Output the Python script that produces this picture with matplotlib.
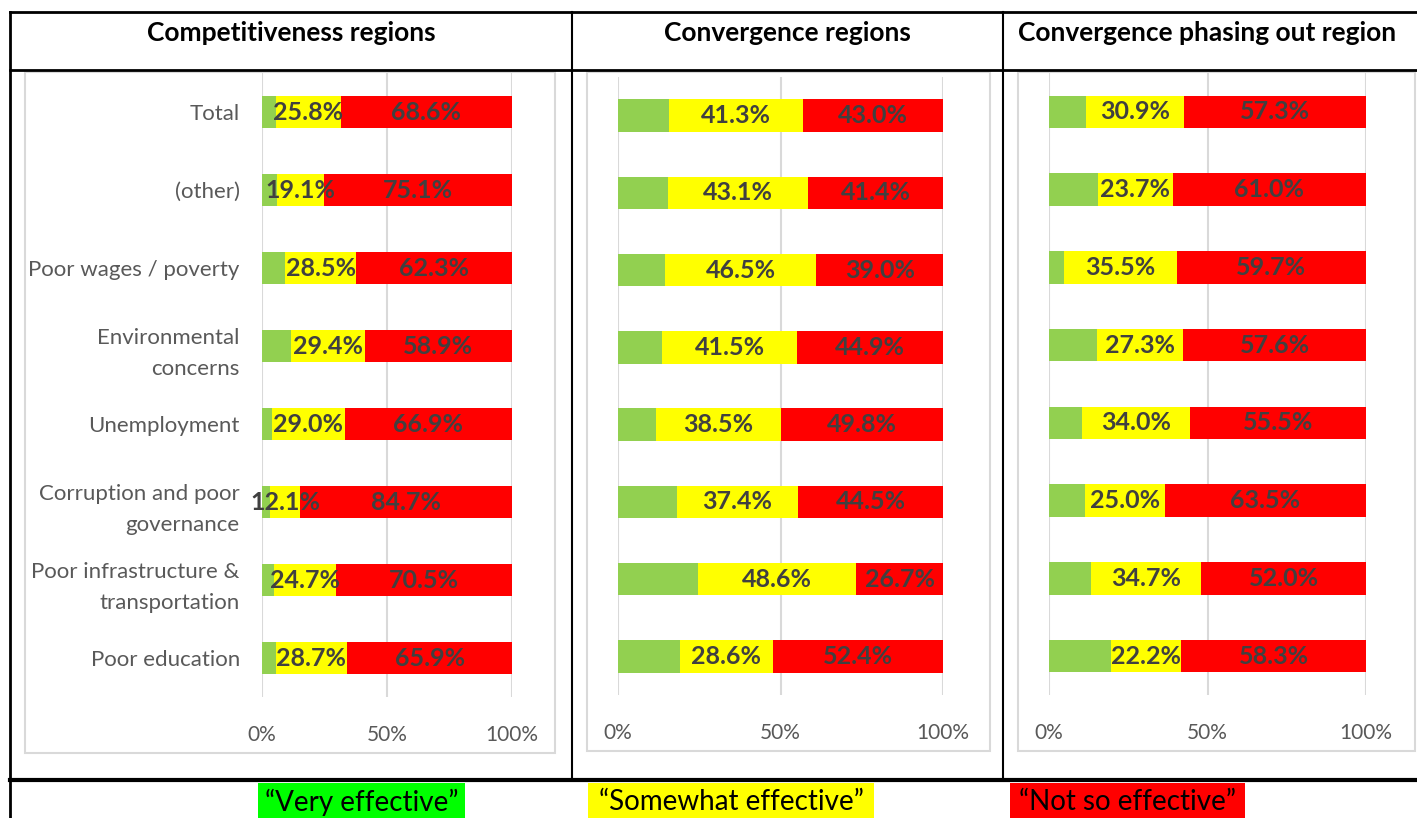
import matplotlib
matplotlib.use('Agg')
import matplotlib.pyplot as plt
from matplotlib.patches import Rectangle
from matplotlib.lines import Line2D

plt.rcParams['font.family'] = ['Lato', 'DejaVu Sans']

# Data
categories = ['Total', '(other)', 'Poor wages / poverty', 'Environmental\nconcerns',
              'Unemployment', 'Corruption and poor\ngovernance',
              'Poor infrastructure &\ntransportation', 'Poor education']
panel_titles = ['Competitiveness regions', 'Convergence regions',
                'Convergence phasing out region']

comp_somewhat = [25.8, 19.1, 28.5, 29.4, 29.0, 12.1, 24.7, 28.7]
comp_not = [68.6, 75.1, 62.3, 58.9, 66.9, 84.7, 70.5, 65.9]
conv_somewhat = [41.3, 43.1, 46.5, 41.5, 38.5, 37.4, 48.6, 28.6]
conv_not = [43.0, 41.4, 39.0, 44.9, 49.8, 44.5, 26.7, 52.4]
phase_somewhat = [30.9, 23.7, 35.5, 27.3, 34.0, 25.0, 34.7, 22.2]
phase_not = [57.3, 61.0, 59.7, 57.6, 55.5, 63.5, 52.0, 58.3]

legend_labels = ['\u201cVery effective\u201d', '\u201cSomewhat effective\u201d',
                 '\u201cNot so effective\u201d']

GREEN, YELLOW, RED = '#92d050', '#ffff00', '#ff0000'
LEG_COLORS = ['#00ff00', '#ffff00', '#ff0000']
GRID = '#d9d9d9'
LABEL = '#404040'

W, H = 1417, 818
fig = plt.figure(figsize=(W / 100, H / 100), dpi=100)


def fx(x):
    return x / W


def fy(y):
    return 1 - y / H


def axes_px(x0, y0, x1, y1):
    return fig.add_axes([fx(x0), fy(y1), fx(x1) - fx(x0), (y1 - y0) / H])


# table frame
lines = [
    ((10, 1417), (12, 12), 2),
    ((10, 1417), (70, 70), 2),
    ((10, 10), (12, 818), 2),
    ((572, 572), (12, 780), 1.5),
    ((1003, 1003), (12, 780), 1.5),
    ((10, 1417), (780, 780), 3),
]
for xs, ys, lw in lines:
    fig.add_artist(Line2D([fx(xs[0]), fx(xs[1])], [fy(ys[0]), fy(ys[1])],
                          color='black', lw=lw, transform=fig.transFigure))

# chart boxes
boxes = [(25, 72, 555, 753), (587, 72, 990, 751), (1018, 72, 1415, 751)]
for x0, y0, x1, y1 in boxes:
    fig.add_artist(Rectangle((fx(x0), fy(y1)), fx(x1) - fx(x0), (y1 - y0) / H,
                             transform=fig.transFigure, fill=False,
                             edgecolor=GRID, lw=1.5))

# titles
title_pos = [(291, 'center'), (787, 'center'), (1018, 'left')]
for t, (x, ha) in zip(panel_titles, title_pos):
    fig.text(fx(x), fy(33), t, ha=ha, va='center', fontsize=19,
             fontweight='bold', color='black')

panels = [
    ((262, 73, 512, 697), comp_somewhat, comp_not, True),
    ((618, 77, 943, 695), conv_somewhat, conv_not, False),
    ((1049, 73, 1366, 695), phase_somewhat, phase_not, False),
]

for (x0, y0, x1, y1), som, nots, show_cats in panels:
    ax = axes_px(x0, y0, x1, y1)
    very = [100 - s - n for s, n in zip(som, nots)]
    y = list(range(len(categories)))
    h = 0.42
    ax.barh(y, very, height=h, color=GREEN, zorder=2)
    ax.barh(y, som, left=very, height=h, color=YELLOW, zorder=2)
    left_red = [v + s for v, s in zip(very, som)]
    ax.barh(y, nots, left=left_red, height=h, color=RED, zorder=2)
    for i in y:
        ax.text(very[i] + som[i] / 2, i, f'{som[i]:.1f}%', ha='center',
                va='center', fontsize=18, fontweight='bold', color=LABEL, zorder=3)
        ax.text(left_red[i] + nots[i] / 2, i, f'{nots[i]:.1f}%', ha='center',
                va='center', fontsize=18, fontweight='bold', color=LABEL, zorder=3)
    ax.set_xlim(0, 100)
    ax.set_ylim(len(categories) - 0.5, -0.5)
    ax.set_xticks([0, 50, 100])
    ax.set_xticklabels(['0%', '50%', '100%'], fontsize=15, color='#595959')
    ax.tick_params(axis='x', length=0, pad=20)
    ax.grid(axis='x', color=GRID, lw=1.5, zorder=0)
    ax.set_axisbelow(True)
    for s in ax.spines.values():
        s.set_visible(False)
    ax.set_yticks(y)
    if show_cats:
        ax.set_yticklabels(categories, fontsize=16, color='#595959',
                           linespacing=1.7)
        ax.tick_params(axis='y', length=0, pad=16)
    else:
        ax.set_yticklabels([])
        ax.tick_params(axis='y', length=0)
    ax.patch.set_alpha(0)

# legend row
legend_boxes = [(258, 465), (588, 874), (1010, 1245)]
for lab, col, (a, b) in zip(legend_labels, LEG_COLORS, legend_boxes):
    fig.add_artist(Rectangle((fx(a), 0), fx(b) - fx(a), fy(783),
                             transform=fig.transFigure, color=col, lw=0))
    fig.text(fx((a + b) / 2), fy(802), lab, ha='center', va='center',
             fontsize=20, color='black')

fig.savefig('out.png', dpi=100)
